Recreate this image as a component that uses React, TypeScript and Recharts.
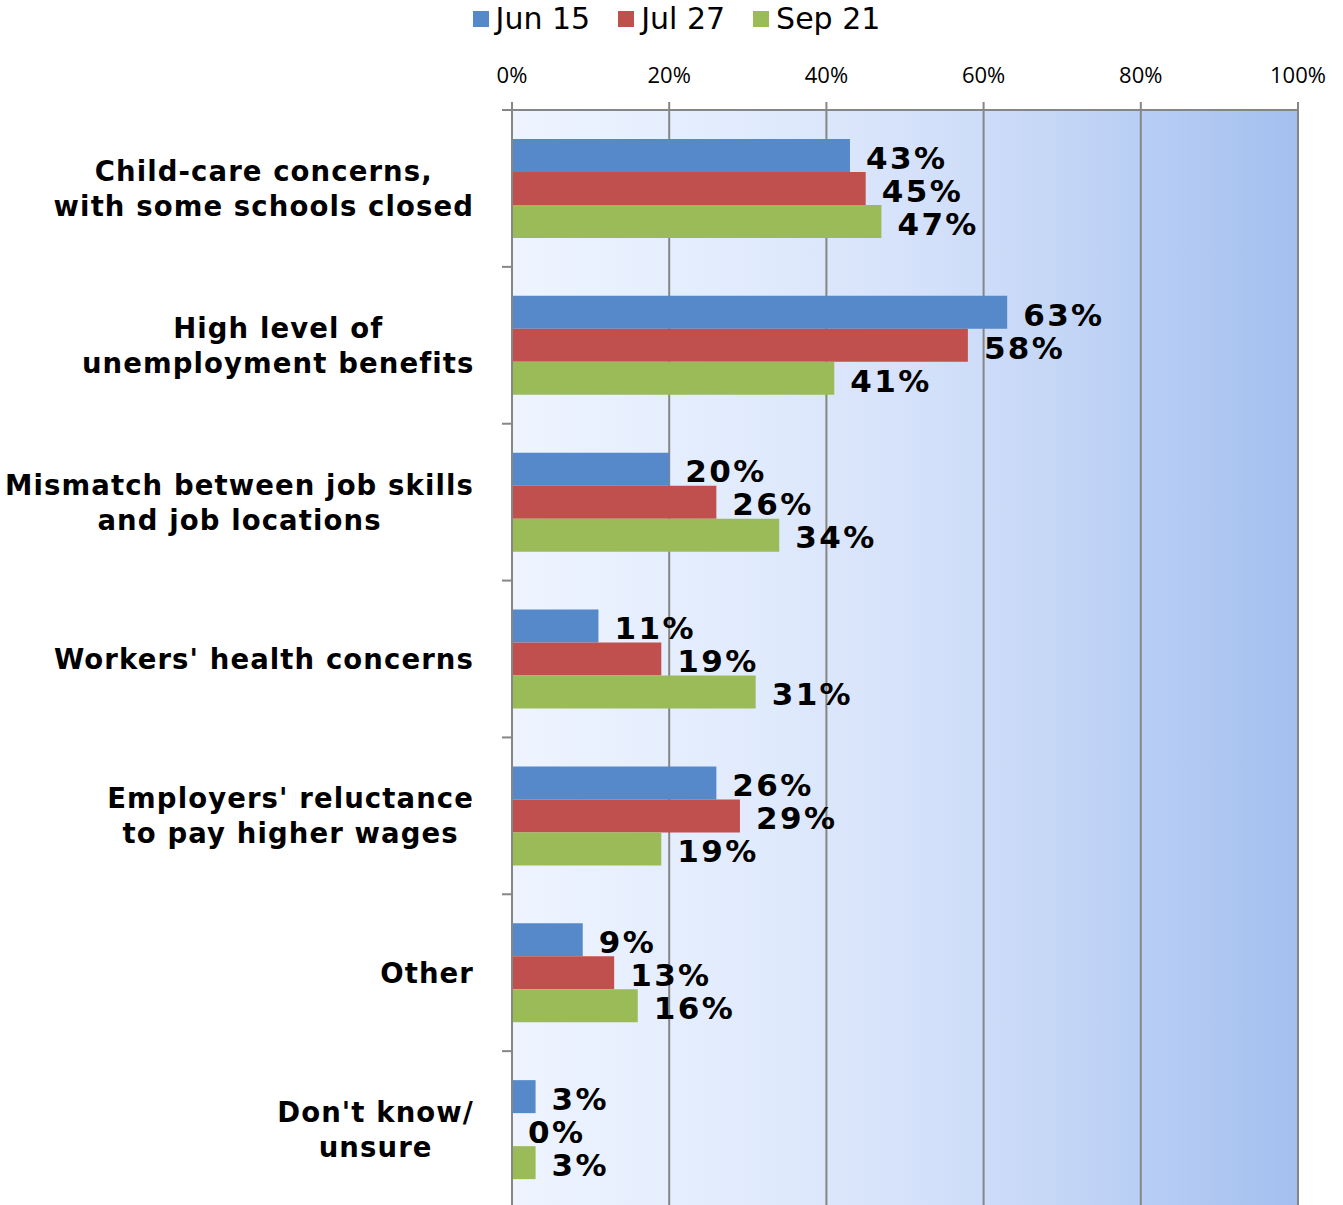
import React from "react";
import {
  Bar,
  BarChart,
  CartesianGrid,
  LabelList,
  XAxis,
  YAxis,
} from "recharts";

// categories, top to bottom ("\n" marks a line break in the axis label)
const categories = [
  "Child-care concerns,\nwith some schools closed",
  "High level of\nunemployment benefits",
  "Mismatch between job skills\nand job locations",
  "Workers' health concerns",
  "Employers' reluctance\nto pay higher wages",
  "Other",
  "Don't know/\nunsure",
];

const jun15 = [43, 63, 20, 11, 26, 9, 3];
const jul27 = [45, 58, 26, 19, 29, 13, 0];
const sep21 = [47, 41, 34, 31, 19, 16, 3];

const xTicks = [0, 20, 40, 60, 80, 100];

const series = [
  { key: "jun15", name: "Jun 15", color: "#5589C9" },
  { key: "jul27", name: "Jul 27", color: "#C0504D" },
  { key: "sep21", name: "Sep 21", color: "#9BBB59" },
];

const data = categories.map((name, i) => ({
  name,
  jun15: jun15[i],
  jul27: jul27[i],
  sep21: sep21[i],
}));

const W = 1343;
const H = 1210;
const TOP = 80;
const X_AXIS_H = 30;
const BOTTOM = 2;
const PLOT_LEFT = 512;
const BAND = (H - TOP - X_AXIS_H - BOTTOM) / categories.length;

const LABEL_SIZE = 27.5;
const LABEL_LS = 1.1;
const LABEL_RIGHT = 474;
const LINE_H = 35;

let ctx: CanvasRenderingContext2D | null = null;
function textWidth(s: string): number {
  if (!ctx) ctx = document.createElement("canvas").getContext("2d");
  if (!ctx) return s.length * 17;
  ctx.font = `bold ${LABEL_SIZE}px "DejaVu Sans"`;
  return ctx.measureText(s).width + s.length * LABEL_LS;
}

function CategoryTick(props: any) {
  const { y, payload, index } = props;
  const lines: string[] = String(payload.value).split("\n");
  const maxW = Math.max(...lines.map(textWidth));
  const cx = LABEL_RIGHT - maxW / 2;
  const top = y - BAND / 2;
  const first = y - ((lines.length - 1) * LINE_H) / 2;
  return (
    <g>
      <line x1={PLOT_LEFT - 10} x2={PLOT_LEFT} y1={top} y2={top} stroke="#868686" strokeWidth={2} />
      {index === categories.length - 1 && (
        <line
          x1={PLOT_LEFT - 10}
          x2={PLOT_LEFT}
          y1={y + BAND / 2}
          y2={y + BAND / 2}
          stroke="#868686"
          strokeWidth={2}
        />
      )}
      {lines.map((ln, i) => (
        <text
          key={i}
          x={cx}
          y={first + i * LINE_H}
          dy="0.36em"
          textAnchor="middle"
          fontFamily="DejaVu Sans"
          fontWeight="bold"
          fontSize={LABEL_SIZE}
          letterSpacing={LABEL_LS}
          fill="#000"
        >
          {ln}
        </text>
      ))}
    </g>
  );
}

// value label drawn to the right of the bar end (also for zero-length bars)
function ValueLabel(props: any) {
  const { x, y, width, height, value } = props;
  if (value == null) return null;
  return (
    <text
      x={Number(x) + Number(width || 0) + 16}
      y={Number(y) + Number(height) / 2 + 2}
      dy="0.36em"
      textAnchor="start"
      fontFamily="DejaVu Sans"
      fontWeight="bold"
      fontSize={31}
      letterSpacing={2.4}
      fill="#000"
    >
      {`${value}%`}
    </text>
  );
}

function ChartLegend() {
  return (
    <div
      style={{
        position: "absolute",
        top: 0,
        left: 0,
        width: W,
        display: "flex",
        justifyContent: "center",
        alignItems: "center",
        gap: 28,
        paddingLeft: 10,
        boxSizing: "border-box",
        fontFamily: "DejaVu Sans",
        fontSize: 30,
        color: "#000",
        lineHeight: "38px",
      }}
    >
      {series.map((s) => (
        <div key={s.key} style={{ display: "flex", alignItems: "center", gap: 7 }}>
          <span style={{ width: 16, height: 16, background: s.color, display: "inline-block" }} />
          <span>{s.name}</span>
        </div>
      ))}
    </div>
  );
}

export default function App() {
  return (
    <div style={{ position: "absolute", left: 0, top: 0, width: W, height: H }}>
      <BarChart
        width={W}
        height={H}
        data={data}
        layout="vertical"
        barGap={0}
        barSize={33}
        margin={{ top: TOP, right: W - 1298, bottom: BOTTOM, left: 0 }}
      >
        <defs>
          <linearGradient id="bgGrad" x1="0" y1="0" x2="1" y2="0">
            <stop offset="0%" stopColor="#EEF4FF" />
            <stop offset="30%" stopColor="#E1EBFD" />
            <stop offset="50%" stopColor="#D6E2FA" />
            <stop offset="70%" stopColor="#C4D6F6" />
            <stop offset="85%" stopColor="#B3CAF3" />
            <stop offset="100%" stopColor="#A3BFEF" />
          </linearGradient>
        </defs>
        <CartesianGrid
          horizontal={false}
          stroke="#868686"
          strokeWidth={2}
          fill="url(#bgGrad)"
          fillOpacity={1}
        />
        <XAxis
          type="number"
          orientation="top"
          domain={[0, 100]}
          ticks={xTicks}
          height={X_AXIS_H}
          tickFormatter={(v: number) => `${v}%`}
          tick={{ fill: "#000", fontFamily: "Open Sans", fontSize: 22 }}
          tickSize={8}
          tickMargin={19}
          axisLine={{ stroke: "#868686", strokeWidth: 2 }}
          tickLine={{ stroke: "#868686", strokeWidth: 2 }}
        />
        <YAxis
          type="category"
          dataKey="name"
          width={PLOT_LEFT}
          interval={0}
          tick={<CategoryTick />}
          tickLine={false}
          axisLine={{ stroke: "#868686", strokeWidth: 2 }}
        />
        {series.map((s) => (
          <Bar
            key={s.key}
            dataKey={s.key}
            name={s.name}
            fill={s.color}
            minPointSize={(v: number) => (v === 0 ? 0.01 : 0)}
            isAnimationActive={false}
          >
            <LabelList dataKey={s.key} content={<ValueLabel />} />
          </Bar>
        ))}
      </BarChart>
      <ChartLegend />
    </div>
  );
}
